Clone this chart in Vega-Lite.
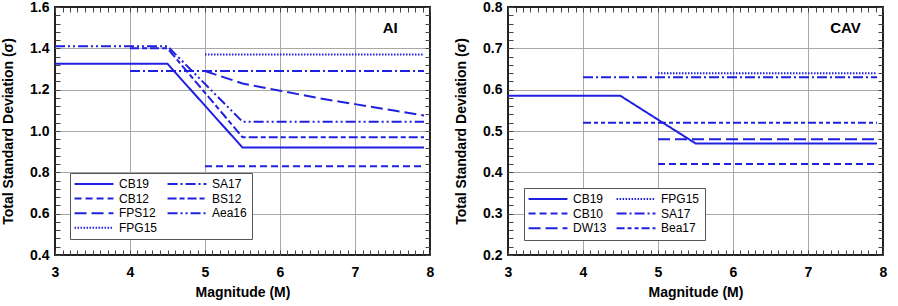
{
  "$schema": "https://vega.github.io/schema/vega-lite/v6.json",
  "background": "white",
  "padding": {"left": 0, "top": -1, "right": 5, "bottom": 0},
  "datasets": {
    "ai": [
      {"model": "CB19", "M": 3, "sd": 1.325},
      {"model": "CB19", "M": 4.5, "sd": 1.325},
      {"model": "CB19", "M": 5.5, "sd": 0.92},
      {"model": "CB19", "M": 7.92, "sd": 0.92},
      {"model": "CB12", "M": 5, "sd": 0.83},
      {"model": "CB12", "M": 7.92, "sd": 0.83},
      {"model": "FPS12", "M": 5, "sd": 1.29},
      {"model": "FPS12", "M": 5.5, "sd": 1.23},
      {"model": "FPS12", "M": 6, "sd": 1.195},
      {"model": "FPS12", "M": 6.5, "sd": 1.16},
      {"model": "FPS12", "M": 7, "sd": 1.13},
      {"model": "FPS12", "M": 7.5, "sd": 1.1},
      {"model": "FPS12", "M": 7.92, "sd": 1.075},
      {"model": "FPG15", "M": 5, "sd": 1.37},
      {"model": "FPG15", "M": 7.92, "sd": 1.37},
      {"model": "SA17", "M": 4, "sd": 1.29},
      {"model": "SA17", "M": 7.92, "sd": 1.29},
      {"model": "BS12", "M": 4, "sd": 1.4},
      {"model": "BS12", "M": 4.5, "sd": 1.4},
      {"model": "BS12", "M": 5.5, "sd": 0.97},
      {"model": "BS12", "M": 7.92, "sd": 0.97},
      {"model": "Aea16", "M": 3, "sd": 1.41},
      {"model": "Aea16", "M": 4.5, "sd": 1.41},
      {"model": "Aea16", "M": 5.5, "sd": 1.045},
      {"model": "Aea16", "M": 7.92, "sd": 1.045}
    ],
    "cav": [
      {"model": "CB19", "M": 3, "sd": 0.585},
      {"model": "CB19", "M": 4.5, "sd": 0.585},
      {"model": "CB19", "M": 5.5, "sd": 0.47},
      {"model": "CB19", "M": 7.92, "sd": 0.47},
      {"model": "CB10", "M": 5, "sd": 0.42},
      {"model": "CB10", "M": 7.92, "sd": 0.42},
      {"model": "DW13", "M": 5, "sd": 0.48},
      {"model": "DW13", "M": 7.92, "sd": 0.48},
      {"model": "FPG15", "M": 5, "sd": 0.64},
      {"model": "FPG15", "M": 7.92, "sd": 0.64},
      {"model": "SA17", "M": 4, "sd": 0.63},
      {"model": "SA17", "M": 7.92, "sd": 0.63},
      {"model": "Bea17", "M": 4, "sd": 0.52},
      {"model": "Bea17", "M": 7.92, "sd": 0.52}
    ]
  },
  "hconcat": [
    {
      "width": 375,
      "height": 248,
      "data": {"name": "ai"},
      "layer": [
        {
          "mark": {"type": "line", "color": "#2020e0", "strokeWidth": 2},
          "encoding": {
            "x": {
              "field": "M", "type": "quantitative",
              "scale": {"domain": [3, 8], "nice": false, "zero": false},
              "axis": {
                "orient": "bottom",
                "offset": -5,
                "values": [3,3.1,3.2,3.3,3.4,3.5,3.6,3.7,3.8,3.9,4,4.1,4.2,4.3,4.4,4.5,4.6,4.7,4.8,4.9,5,5.1,5.2,5.3,5.4,5.5,5.6,5.7,5.8,5.9,6,6.1,6.2,6.3,6.4,6.5,6.6,6.7,6.8,6.9,7,7.1,7.2,7.3,7.4,7.5,7.6,7.7,7.8,7.9,8],
                "labelExpr": "abs(datum.value - round(datum.value)) < 0.001 ? format(datum.value, 'd') : ''",
                "gridOpacity": {"condition": {"test": "abs(datum.value - round(datum.value)) < 0.001 && datum.value > 3.01 && datum.value < 7.99", "value": 1}, "value": 0},
                "labelPadding": 10,
                "titlePadding": 6,
                "title": "Magnitude (M)"
              }
            },
            "y": {
              "field": "sd", "type": "quantitative",
              "scale": {"domain": [0.4, 1.6], "nice": false, "zero": false},
              "axis": {
                "orient": "left",
                "offset": -5,
                "values": [0.4,0.44,0.48,0.52,0.56,0.6,0.64,0.68,0.72,0.76,0.8,0.84,0.88,0.92,0.96,1,1.04,1.08,1.12,1.16,1.2,1.24,1.28,1.32,1.36,1.4,1.44,1.48,1.52,1.56,1.6],
                "labelExpr": "abs(datum.value * 5 - round(datum.value * 5)) < 0.001 ? format(datum.value, '.1f') : ''",
                "gridOpacity": {"condition": {"test": "abs(datum.value * 5 - round(datum.value * 5)) < 0.001 && datum.value > 0.41 && datum.value < 1.59", "value": 1}, "value": 0},
                "labelPadding": 6,
                "titlePadding": 14,
                "title": "Total Standard Deviation (σ)"
              }
            },
            "strokeDash": {
              "field": "model", "type": "nominal",
              "scale": {
                "domain": ["CB19", "CB12", "FPS12", "FPG15", "SA17", "BS12", "Aea16"],
                "range": [[1, 0], [7, 4], [12, 5], [1.5, 1.5], [10, 3, 2, 3], [9, 3, 5, 3], [10, 3, 2, 3, 2, 3]]
              },
              "legend": {"orient": "none", "legendX": 15, "legendY": 166}
            }
          }
        },
        {
          "data": {"values": [{"M": 7.47, "sd": 1.5, "label": "AI"}]},
          "mark": {"type": "text", "fontSize": 15, "fontWeight": "bold", "color": "#000", "align": "center", "baseline": "middle"},
          "encoding": {
            "x": {"field": "M", "type": "quantitative", "axis": null},
            "y": {"field": "sd", "type": "quantitative", "axis": null},
            "text": {"field": "label"}
          }
        },
        {
          "mark": {"type": "point", "opacity": 0},
          "encoding": {
            "x": {
              "field": "M", "type": "quantitative",
              "axis": {
                "orient": "top", "offset": -5, "labels": false, "grid": false, "title": null,
                "values": [3,3.1,3.2,3.3,3.4,3.5,3.6,3.7,3.8,3.9,4,4.1,4.2,4.3,4.4,4.5,4.6,4.7,4.8,4.9,5,5.1,5.2,5.3,5.4,5.5,5.6,5.7,5.8,5.9,6,6.1,6.2,6.3,6.4,6.5,6.6,6.7,6.8,6.9,7,7.1,7.2,7.3,7.4,7.5,7.6,7.7,7.8,7.9,8]
              }
            },
            "y": {
              "field": "sd", "type": "quantitative",
              "axis": {
                "orient": "right", "offset": -5, "labels": false, "grid": false, "title": null,
                "values": [0.4,0.44,0.48,0.52,0.56,0.6,0.64,0.68,0.72,0.76,0.8,0.84,0.88,0.92,0.96,1,1.04,1.08,1.12,1.16,1.2,1.24,1.28,1.32,1.36,1.4,1.44,1.48,1.52,1.56,1.6]
              }
            }
          }
        }
      ],
      "resolve": {"axis": {"x": "independent", "y": "independent"}}
    },
    {
      "width": 375,
      "height": 248,
      "data": {"name": "cav"},
      "layer": [
        {
          "mark": {"type": "line", "color": "#2020e0", "strokeWidth": 2},
          "encoding": {
            "x": {
              "field": "M", "type": "quantitative",
              "scale": {"domain": [3, 8], "nice": false, "zero": false},
              "axis": {
                "orient": "bottom",
                "offset": -5,
                "values": [3,3.1,3.2,3.3,3.4,3.5,3.6,3.7,3.8,3.9,4,4.1,4.2,4.3,4.4,4.5,4.6,4.7,4.8,4.9,5,5.1,5.2,5.3,5.4,5.5,5.6,5.7,5.8,5.9,6,6.1,6.2,6.3,6.4,6.5,6.6,6.7,6.8,6.9,7,7.1,7.2,7.3,7.4,7.5,7.6,7.7,7.8,7.9,8],
                "labelExpr": "abs(datum.value - round(datum.value)) < 0.001 ? format(datum.value, 'd') : ''",
                "gridOpacity": {"condition": {"test": "abs(datum.value - round(datum.value)) < 0.001 && datum.value > 3.01 && datum.value < 7.99", "value": 1}, "value": 0},
                "labelPadding": 10,
                "titlePadding": 6,
                "title": "Magnitude (M)"
              }
            },
            "y": {
              "field": "sd", "type": "quantitative",
              "scale": {"domain": [0.2, 0.8], "nice": false, "zero": false},
              "axis": {
                "orient": "left",
                "offset": -5,
                "values": [0.2,0.22,0.24,0.26,0.28,0.3,0.32,0.34,0.36,0.38,0.4,0.42,0.44,0.46,0.48,0.5,0.52,0.54,0.56,0.58,0.6,0.62,0.64,0.66,0.68,0.7,0.72,0.74,0.76,0.78,0.8],
                "labelExpr": "abs(datum.value * 10 - round(datum.value * 10)) < 0.001 ? format(datum.value, '.1f') : ''",
                "gridOpacity": {"condition": {"test": "abs(datum.value * 10 - round(datum.value * 10)) < 0.001 && datum.value > 0.21 && datum.value < 0.79", "value": 1}, "value": 0},
                "labelPadding": 6,
                "titlePadding": 14,
                "title": "Total Standard Deviation (σ)"
              }
            },
            "strokeDash": {
              "field": "model", "type": "nominal",
              "scale": {
                "domain": ["CB19", "CB10", "DW13", "FPG15", "SA17", "Bea17"],
                "range": [[1, 0], [7, 4], [12, 5], [1.5, 1.5], [10, 3, 2, 3], [8, 3, 4, 3, 4, 3]]
              },
              "legend": {"orient": "none", "legendX": 16, "legendY": 181}
            }
          }
        },
        {
          "data": {"values": [{"M": 7.5, "sd": 0.749, "label": "CAV"}]},
          "mark": {"type": "text", "fontSize": 15, "fontWeight": "bold", "color": "#000", "align": "center", "baseline": "middle"},
          "encoding": {
            "x": {"field": "M", "type": "quantitative", "axis": null},
            "y": {"field": "sd", "type": "quantitative", "axis": null},
            "text": {"field": "label"}
          }
        },
        {
          "mark": {"type": "point", "opacity": 0},
          "encoding": {
            "x": {
              "field": "M", "type": "quantitative",
              "axis": {
                "orient": "top", "offset": -5, "labels": false, "grid": false, "title": null,
                "values": [3,3.1,3.2,3.3,3.4,3.5,3.6,3.7,3.8,3.9,4,4.1,4.2,4.3,4.4,4.5,4.6,4.7,4.8,4.9,5,5.1,5.2,5.3,5.4,5.5,5.6,5.7,5.8,5.9,6,6.1,6.2,6.3,6.4,6.5,6.6,6.7,6.8,6.9,7,7.1,7.2,7.3,7.4,7.5,7.6,7.7,7.8,7.9,8]
              }
            },
            "y": {
              "field": "sd", "type": "quantitative",
              "axis": {
                "orient": "right", "offset": -5, "labels": false, "grid": false, "title": null,
                "values": [0.2,0.22,0.24,0.26,0.28,0.3,0.32,0.34,0.36,0.38,0.4,0.42,0.44,0.46,0.48,0.5,0.52,0.54,0.56,0.58,0.6,0.62,0.64,0.66,0.68,0.7,0.72,0.74,0.76,0.78,0.8]
              }
            }
          }
        }
      ],
      "resolve": {"axis": {"x": "independent", "y": "independent"}}
    }
  ],
  "spacing": 78,
  "bounds": "flush",
  "resolve": {"scale": {"strokeDash": "independent"}, "legend": {"strokeDash": "independent"}},
  "config": {
    "font": "Liberation Sans",
    "view": {"stroke": "#222", "strokeWidth": 2},
    "axis": {
      "domain": false,
      "ticks": true,
      "tickSize": 5,
      "tickColor": "#444",
      "tickWidth": 1,
      "gridColor": "#a8a8a8",
      "gridWidth": 1,
      "labelFont": "Liberation Sans",
      "labelFontSize": 14,
      "labelFontWeight": "bold",
      "labelColor": "#000",
      "labelOverlap": false,
      "labelFlush": false,
      "labelBound": false,
      "titleFont": "Liberation Sans",
      "titleFontSize": 14,
      "titleFontWeight": "bold",
      "titleColor": "#000"
    },
    "legend": {
      "title": null,
      "columns": 2,
      "symbolType": "M-6,0L6,0",
      "symbolSize": 42,
      "symbolStrokeWidth": 2,
      "symbolStrokeColor": "#2020e0",
      "symbolOffset": 13,
      "labelOffset": 19,
      "labelFont": "Liberation Sans",
      "labelFontSize": 12,
      "labelColor": "#000",
      "strokeColor": "#555",
      "fillColor": "#fff",
      "padding": 5,
      "rowPadding": 2.6,
      "columnPadding": 5
    }
  }
}
